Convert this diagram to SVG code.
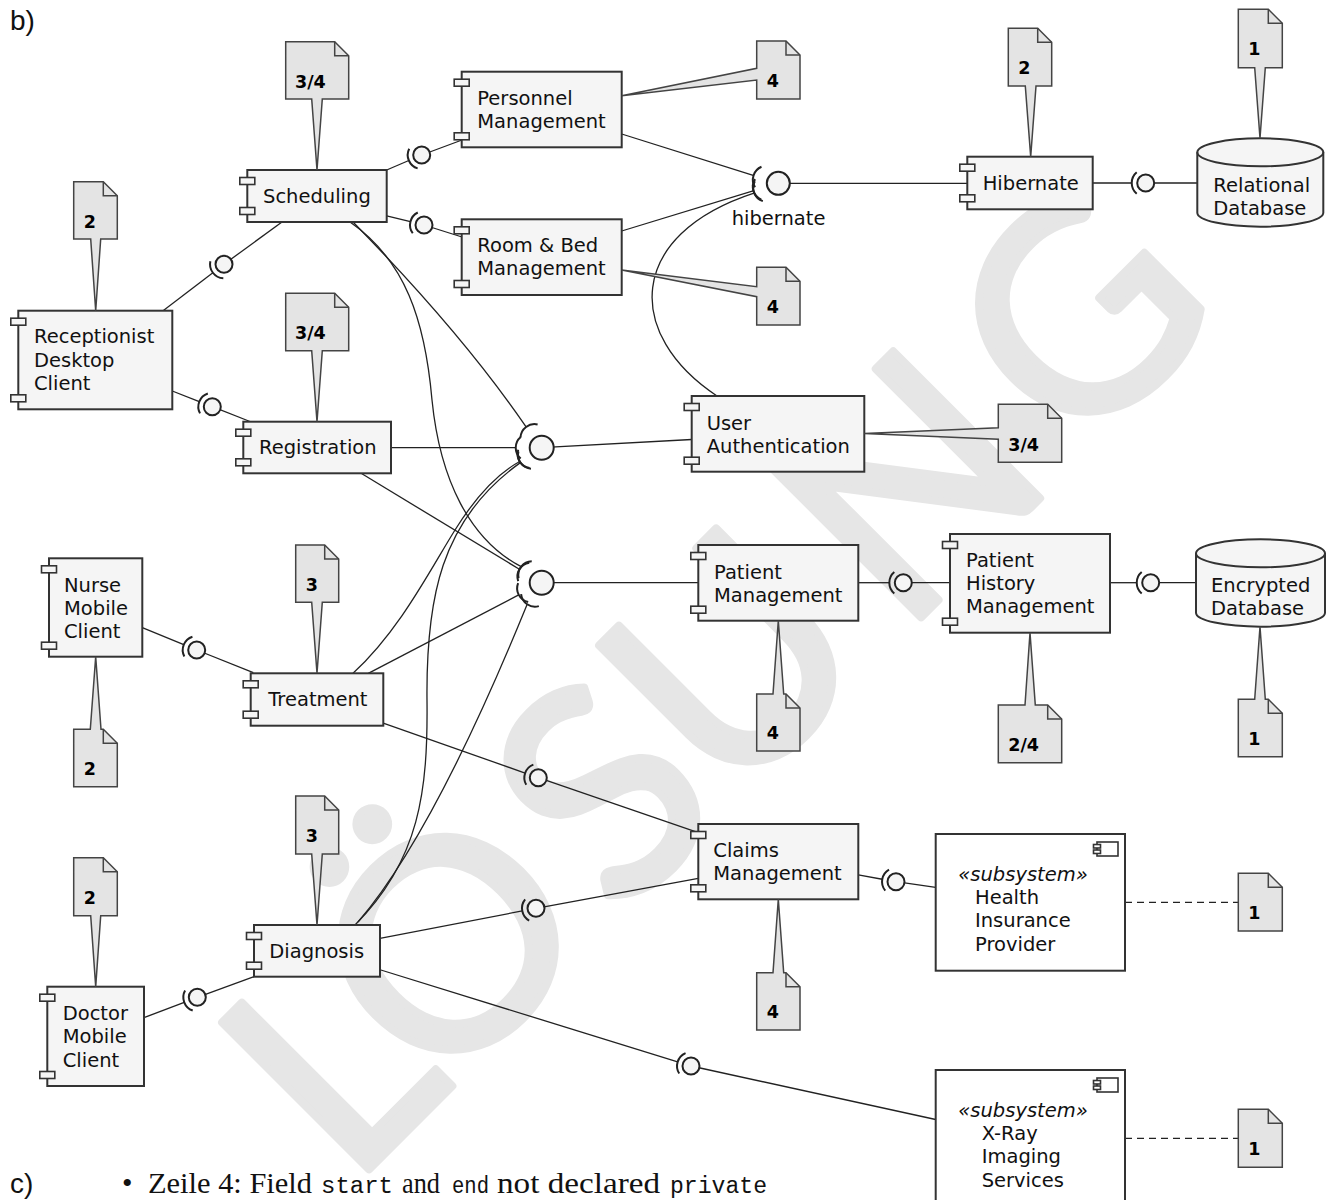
<svg xmlns="http://www.w3.org/2000/svg" width="1330" height="1200" viewBox="0 0 1330 1200">
<defs>
<style>
.wm{font-family:"Lato","Noto Sans",sans-serif;font-size:290px;fill:#e6e6e6;stroke:#e6e6e6;stroke-width:8;stroke-linejoin:round}
.box{fill:#f5f5f5;stroke:#333;stroke-width:2}
.tab{fill:#f5f5f5;stroke:#333;stroke-width:1.6}
.sub{fill:#fff;stroke:#333;stroke-width:2}
.t{font-family:"DejaVu Sans",sans-serif;font-size:19.5px;fill:#111}
.it{font-style:italic}
.note{fill:#e4e4e4;stroke:#444;stroke-width:1.5}
.fold{fill:none;stroke:#444;stroke-width:1.5}
.nt{font-family:"DejaVu Sans",sans-serif;font-size:17.5px;font-weight:bold;fill:#000}
.w{fill:none;stroke:#222;stroke-width:1.3}
.dash{fill:none;stroke:#222;stroke-width:1.3;stroke-dasharray:7 5}
.ball{fill:#f5f5f5;stroke:#222;stroke-width:2}
.sock{fill:none;stroke:#222;stroke-width:2}
.head{font-family:"Liberation Sans",Arial,sans-serif;font-size:28px;fill:#111}
.body{font-family:"Liberation Serif","Times New Roman",serif;font-size:30px;fill:#111}
.mono{font-family:"Liberation Mono","DejaVu Sans Mono",monospace;font-size:23px}
</style>
<!-- socket arc of a small ball-and-socket, facing +x -->
<path id="sk" class="sock" d="M9,-10.7 A14,14 0 0 1 9,10.7"/>
<!-- socket arc on a shared interface ball, facing +x -->
<path id="skb" class="sock" d="M21,-10.7 A14,14 0 0 1 21,10.7"/>
</defs>

<!-- watermark, letters placed one by one along a 45 degree baseline -->
<text class="wm" transform="translate(451,946) rotate(-45)" y="100" text-anchor="middle"><tspan x="-168">L</tspan><tspan x="0">Ö</tspan><tspan x="216">S</tspan><tspan x="400">U</tspan><tspan x="649">N</tspan><tspan x="891">G</tspan></text>

<text class="head" x="10" y="30">b)</text>

<!-- connectors -->
<g id="connectors">
  <!-- ball-and-socket links -->
  <path class="w" d="M224,264.3 L282,222"/>
  <g transform="translate(224,264.3) rotate(142.7)"><path class="w" d="M14,0 H76.6"/><use href="#sk"/></g>
  <path class="w" d="M212.3,406.7 L250,421.5"/>
  <g transform="translate(212.3,406.7) rotate(201.4)"><path class="w" d="M14,0 H43"/><use href="#sk"/></g>
  <path class="w" d="M421.7,155 L462,140"/>
  <g transform="translate(421.7,155) rotate(156.8)"><path class="w" d="M14,0 H38.1"/><use href="#sk"/></g>
  <path class="w" d="M424,225 L462,237"/>
  <g transform="translate(424,225) rotate(193.6)"><path class="w" d="M14,0 H38.4"/><use href="#sk"/></g>
  <path class="w" d="M1145.7,183 L1197.3,183"/>
  <g transform="translate(1145.7,183) rotate(180)"><path class="w" d="M14,0 H53"/><use href="#sk"/></g>
  <path class="w" d="M903.3,582.7 L950,582.7"/>
  <g transform="translate(903.3,582.7) rotate(180)"><path class="w" d="M14,0 H45"/><use href="#sk"/></g>
  <path class="w" d="M1150.7,582.7 L1196,582.7"/>
  <g transform="translate(1150.7,582.7) rotate(180)"><path class="w" d="M14,0 H40.7"/><use href="#sk"/></g>
  <path class="w" d="M196.7,650 L253.3,672.7"/>
  <g transform="translate(196.7,650) rotate(202.3)"><path class="w" d="M14,0 H58.8"/><use href="#sk"/></g>
  <path class="w" d="M197.3,997.3 L254,976.7"/>
  <g transform="translate(197.3,997.3) rotate(159.1)"><path class="w" d="M14,0 H57.1"/><use href="#sk"/></g>
  <path class="w" d="M538.3,777.7 L698.3,832.7"/>
  <g transform="translate(538.3,777.7) rotate(199.4)"><path class="w" d="M14,0 H164.4"/><use href="#sk"/></g>
  <path class="w" d="M536,908.3 L698.3,878.3"/>
  <g transform="translate(536,908.3) rotate(169.1)"><path class="w" d="M14,0 H158.9"/><use href="#sk"/></g>
  <path class="w" d="M896,881.7 L935.7,887.3"/>
  <g transform="translate(896,881.7) rotate(190.1)"><path class="w" d="M14,0 H38.3"/><use href="#sk"/></g>
  <path class="w" d="M691,1066 L935.7,1119.5"/>
  <g transform="translate(691,1066) rotate(197.2)"><path class="w" d="M14,0 H325.5"/><use href="#sk"/></g>

  <!-- hibernate interface -->
  <path class="w" d="M778.3,183.3 L967.3,183.3"/>
  <path class="w" d="M621.7,134 L754,175.6"/>
  <path class="w" d="M621.7,231 L753.9,190.7"/>
  <path class="w" d="M717,396 C625,335 625,235 754.7,192.9"/>
  <g transform="translate(778.3,183.3)">
    <use href="#skb" transform="rotate(197.5)"/>
    <use href="#skb" transform="rotate(163.1)"/>
    <use href="#skb" transform="rotate(158)"/>
  </g>

  <!-- authentication interface -->
  <path class="w" d="M541.7,447.7 L691.7,439.5"/>
  <path class="w" d="M353,222 C400,270 470,345 526.1,426.9"/>
  <path class="w" d="M391,447.7 L515.7,447.7"/>
  <path class="w" d="M353,673.3 C400,630 430,570 455,530 C475,498 495,475 519.7,461.5"/>
  <path class="w" d="M355,925 C420,860 428,790 427,700 C426,600 440,520 520.4,462.6"/>
  <g transform="translate(541.7,447.7)">
    <use href="#skb" transform="rotate(233)"/>
    <use href="#skb" transform="rotate(180)"/>
    <use href="#skb" transform="rotate(148)"/>
    <use href="#skb" transform="rotate(144)"/>
  </g>

  <!-- patient interface -->
  <path class="w" d="M541.7,582.7 L698.3,582.7"/>
  <path class="w" d="M350,222 C405,260 425,320 432,400 C440,480 470,540 521.2,566.7"/>
  <path class="w" d="M361.5,473.5 L519.4,569.3"/>
  <path class="w" d="M368.3,673.3 L518.7,594.9"/>
  <path class="w" d="M358,922 C420,850 480,720 527.2,604.3"/>
  <g transform="translate(541.7,582.7)">
    <use href="#skb" transform="rotate(218)"/>
    <use href="#skb" transform="rotate(211)"/>
    <use href="#skb" transform="rotate(152)"/>
    <use href="#skb" transform="rotate(124)"/>
  </g>

  <!-- balls -->
  <circle class="ball" cx="224" cy="264.3" r="8.5"/>
  <circle class="ball" cx="212.3" cy="406.7" r="8.5"/>
  <circle class="ball" cx="421.7" cy="155" r="8.5"/>
  <circle class="ball" cx="424" cy="225" r="8.5"/>
  <circle class="ball" cx="1145.7" cy="183" r="8.5"/>
  <circle class="ball" cx="903.3" cy="582.7" r="8.5"/>
  <circle class="ball" cx="1150.7" cy="582.7" r="8.5"/>
  <circle class="ball" cx="196.7" cy="650" r="8.5"/>
  <circle class="ball" cx="197.3" cy="997.3" r="8.5"/>
  <circle class="ball" cx="538.3" cy="777.7" r="8.5"/>
  <circle class="ball" cx="536" cy="908.3" r="8.5"/>
  <circle class="ball" cx="896" cy="881.7" r="8.5"/>
  <circle class="ball" cx="691" cy="1066" r="8.5"/>
  <circle class="ball" cx="778.3" cy="183.3" r="11.5"/>
  <circle class="ball" cx="541.7" cy="447.7" r="12"/>
  <circle class="ball" cx="541.7" cy="582.7" r="12"/>
  <text class="t" x="731.7" y="225">hibernate</text>

  <!-- note links to subsystems -->
  <path class="dash" d="M1125,902.3 H1238.3"/>
  <path class="dash" d="M1125,1138.3 H1238.3"/>
</g>

<!-- components -->
<g id="scheduling"><rect class="box" x="247.3" y="170" width="139.4" height="52"/><rect class="tab" x="239.8" y="177.5" width="15" height="7"/><rect class="tab" x="239.8" y="207.5" width="15" height="7"/><text class="t" x="263" y="203">Scheduling</text></g>
<g id="personnel"><rect class="box" x="461.7" y="71.7" width="160" height="75.6"/><rect class="tab" x="454.2" y="79.2" width="15" height="7"/><rect class="tab" x="454.2" y="132.8" width="15" height="7"/><text class="t" x="477.3" y="105">Personnel</text><text class="t" x="477.3" y="128.3">Management</text></g>
<g id="roombed"><rect class="box" x="461.7" y="219.3" width="160" height="75.7"/><rect class="tab" x="454.2" y="226.8" width="15" height="7"/><rect class="tab" x="454.2" y="280.5" width="15" height="7"/><text class="t" x="477.3" y="251.7">Room &amp; Bed</text><text class="t" x="477.3" y="275">Management</text></g>
<g id="receptionist"><rect class="box" x="18.3" y="310.7" width="154" height="98.6"/><rect class="tab" x="10.8" y="318.2" width="15" height="7"/><rect class="tab" x="10.8" y="394.8" width="15" height="7"/><text class="t" x="34" y="343.3">Receptionist</text><text class="t" x="34" y="366.7">Desktop</text><text class="t" x="34" y="390">Client</text></g>
<g id="registration"><rect class="box" x="243.3" y="421.7" width="147.7" height="51.6"/><rect class="tab" x="235.8" y="429.2" width="15" height="7"/><rect class="tab" x="235.8" y="458.8" width="15" height="7"/><text class="t" x="259" y="454.3">Registration</text></g>
<g id="userauth"><rect class="box" x="691.7" y="396" width="172.6" height="75.7"/><rect class="tab" x="684.2" y="403.5" width="15" height="7"/><rect class="tab" x="684.2" y="457.2" width="15" height="7"/><text class="t" x="706.7" y="430">User</text><text class="t" x="706.7" y="452.7">Authentication</text></g>
<g id="hibernate"><rect class="box" x="967.3" y="156.7" width="125.4" height="52.6"/><rect class="tab" x="959.8" y="164.2" width="15" height="7"/><rect class="tab" x="959.8" y="194.8" width="15" height="7"/><text class="t" x="982.7" y="190">Hibernate</text></g>
<g id="patientmgmt"><rect class="box" x="698.3" y="545" width="160" height="75.7"/><rect class="tab" x="690.8" y="552.5" width="15" height="7"/><rect class="tab" x="690.8" y="606.2" width="15" height="7"/><text class="t" x="714" y="579">Patient</text><text class="t" x="714" y="601.7">Management</text></g>
<g id="patienthistory"><rect class="box" x="950" y="534" width="160" height="98.7"/><rect class="tab" x="942.5" y="541.5" width="15" height="7"/><rect class="tab" x="942.5" y="618.2" width="15" height="7"/><text class="t" x="966" y="566.7">Patient</text><text class="t" x="966" y="590">History</text><text class="t" x="966" y="612.7">Management</text></g>
<g id="nurse"><rect class="box" x="49" y="558.3" width="93.3" height="98.4"/><rect class="tab" x="41.5" y="565.8" width="15" height="7"/><rect class="tab" x="41.5" y="642.2" width="15" height="7"/><text class="t" x="64" y="591.7">Nurse</text><text class="t" x="64" y="615">Mobile</text><text class="t" x="64" y="638.3">Client</text></g>
<g id="treatment"><rect class="box" x="250.7" y="673.3" width="132.6" height="52.4"/><rect class="tab" x="243.2" y="680.8" width="15" height="7"/><rect class="tab" x="243.2" y="711.2" width="15" height="7"/><text class="t" x="268.3" y="706">Treatment</text></g>
<g id="claims"><rect class="box" x="698.3" y="824" width="160" height="75.3"/><rect class="tab" x="690.8" y="831.5" width="15" height="7"/><rect class="tab" x="690.8" y="884.8" width="15" height="7"/><text class="t" x="713.3" y="856.7">Claims</text><text class="t" x="713.3" y="880">Management</text></g>
<g id="diagnosis"><rect class="box" x="254" y="925" width="126" height="51.7"/><rect class="tab" x="246.5" y="932.5" width="15" height="7"/><rect class="tab" x="246.5" y="962.2" width="15" height="7"/><text class="t" x="269.3" y="957.7">Diagnosis</text></g>
<g id="doctor"><rect class="box" x="47.3" y="986.7" width="96.7" height="99.3"/><rect class="tab" x="39.8" y="994.2" width="15" height="7"/><rect class="tab" x="39.8" y="1071.5" width="15" height="7"/><text class="t" x="62.7" y="1020">Doctor</text><text class="t" x="62.7" y="1043.3">Mobile</text><text class="t" x="62.7" y="1066.7">Client</text></g>

<!-- databases -->
<g id="relationaldb"><path class="box" d="M1197.3,152.3 A63,14 0 0 1 1323.3,152.3 V212.7 A63,14 0 0 1 1197.3,212.7 Z"/><path class="fold" style="stroke:#333;stroke-width:2" d="M1197.3,152.3 A63,14 0 0 0 1323.3,152.3"/><text class="t" x="1213.3" y="191.7">Relational</text><text class="t" x="1213.3" y="215">Database</text></g>
<g id="encrypteddb"><path class="box" d="M1196,553.3 A64.5,14 0 0 1 1325,553.3 V612.7 A64.5,14 0 0 1 1196,612.7 Z"/><path class="fold" style="stroke:#333;stroke-width:2" d="M1196,553.3 A64.5,14 0 0 0 1325,553.3"/><text class="t" x="1211" y="591.7">Encrypted</text><text class="t" x="1211" y="615">Database</text></g>

<!-- subsystems -->
<g id="healthinsurance"><rect class="sub" x="935.7" y="834" width="189.3" height="136.7"/><rect class="tab" style="fill:#fff" x="1097" y="842" width="21" height="14"/><rect class="tab" style="fill:#fff" x="1093.5" y="844.5" width="7" height="3.5"/><rect class="tab" style="fill:#fff" x="1093.5" y="850" width="7" height="3.5"/><text class="t it" x="958.3" y="880.7">«subsystem»</text><text class="t" x="975" y="904">Health</text><text class="t" x="975" y="927.3">Insurance</text><text class="t" x="975" y="950.7">Provider</text></g>
<g id="xray"><rect class="sub" x="935.7" y="1070" width="189.3" height="136.7"/><rect class="tab" style="fill:#fff" x="1097" y="1078" width="21" height="14"/><rect class="tab" style="fill:#fff" x="1093.5" y="1080.5" width="7" height="3.5"/><rect class="tab" style="fill:#fff" x="1093.5" y="1086" width="7" height="3.5"/><text class="t it" x="958.3" y="1116.7">«subsystem»</text><text class="t" x="981.7" y="1140">X-Ray</text><text class="t" x="981.7" y="1163.3">Imaging</text><text class="t" x="981.7" y="1186.7">Services</text></g>

<!-- notes -->
<g id="note-scheduling"><path class="note" d="M285.7,41.7 H334.7 L348.7,55.7 V99 H322.3 L317,170 L311.7,99 H285.7 Z"/><path class="fold" d="M334.7,41.7 V55.7 H348.7"/><text class="nt" x="295" y="87.7">3/4</text></g>
<g id="note-receptionist"><path class="note" d="M73.7,181.7 H103.3 L117.3,195.7 V239 H100.7 L95.7,310.7 L90.7,239 H73.7 Z"/><path class="fold" d="M103.3,181.7 V195.7 H117.3"/><text class="nt" x="83.7" y="227.7">2</text></g>
<g id="note-personnel"><path class="note" d="M756.7,41 H786 L800,55 V99 H756.7 V80 L621.7,95.7 L756.7,68.3 Z"/><path class="fold" d="M786,41 V55 H800"/><text class="nt" x="766.7" y="87">4</text></g>
<g id="note-roombed"><path class="note" d="M756.7,267.3 H786 L800,281.3 V325 H756.7 V296.7 L621.7,270 L756.7,286.7 Z"/><path class="fold" d="M786,267.3 V281.3 H800"/><text class="nt" x="766.7" y="313.3">4</text></g>
<g id="note-hibernate"><path class="note" d="M1008.3,28.3 H1037.7 L1051.7,42.3 V86 H1036 L1030.7,156.7 L1025.3,86 H1008.3 Z"/><path class="fold" d="M1037.7,28.3 V42.3 H1051.7"/><text class="nt" x="1018.3" y="74.3">2</text></g>
<g id="note-relationaldb"><path class="note" d="M1238.3,9.3 H1268.3 L1282.3,23.3 V67.7 H1265.3 L1260,138.3 L1254.7,67.7 H1238.3 Z"/><path class="fold" d="M1268.3,9.3 V23.3 H1282.3"/><text class="nt" x="1248.3" y="55.3">1</text></g>
<g id="note-registration"><path class="note" d="M285.7,293.3 H334.7 L348.7,307.3 V350.7 H322.3 L317,421.7 L311.7,350.7 H285.7 Z"/><path class="fold" d="M334.7,293.3 V307.3 H348.7"/><text class="nt" x="295" y="339.3">3/4</text></g>
<g id="note-userauth"><path class="note" d="M998.3,404.3 H1047.7 L1061.7,418.3 V462.3 H998.3 V439.3 L864.3,433.5 L998.3,427.7 Z"/><path class="fold" d="M1047.7,404.3 V418.3 H1061.7"/><text class="nt" x="1008.3" y="450.7">3/4</text></g>
<g id="note-treatment"><path class="note" d="M295.7,545 H324.7 L338.7,559 V602.3 H322.3 L317,673.3 L311.7,602.3 H295.7 Z"/><path class="fold" d="M324.7,545 V559 H338.7"/><text class="nt" x="305.7" y="591">3</text></g>
<g id="note-nurse"><path class="note" d="M73.7,729.3 H90.3 L95.7,656.7 L101,729.3 H103.3 L117.3,743.3 V786.7 H73.7 Z"/><path class="fold" d="M103.3,729.3 V743.3 H117.3"/><text class="nt" x="83.7" y="775">2</text></g>
<g id="note-patientmgmt"><path class="note" d="M756.7,694 H773 L778.3,620.7 L783.7,694 H786 L800,708 V751 H756.7 Z"/><path class="fold" d="M786,694 V708 H800"/><text class="nt" x="766.7" y="739.3">4</text></g>
<g id="note-patienthistory"><path class="note" d="M998.3,705 H1025 L1030,632.7 L1035.3,705 H1047.7 L1061.7,719 V762.7 H998.3 Z"/><path class="fold" d="M1047.7,705 V719 H1061.7"/><text class="nt" x="1008.3" y="750.7">2/4</text></g>
<g id="note-encrypteddb"><path class="note" d="M1238.3,699.3 H1254.7 L1260,626.7 L1265.3,699.3 H1268.3 L1282.3,713.3 V756.7 H1238.3 Z"/><path class="fold" d="M1268.3,699.3 V713.3 H1282.3"/><text class="nt" x="1248.3" y="745">1</text></g>
<g id="note-diagnosis"><path class="note" d="M295.7,796 H324.7 L338.7,810 V854 H322.3 L317,925 L311.7,854 H295.7 Z"/><path class="fold" d="M324.7,796 V810 H338.7"/><text class="nt" x="305.7" y="842">3</text></g>
<g id="note-doctor"><path class="note" d="M73.7,857.7 H103.3 L117.3,871.7 V915.7 H100.7 L95.7,986.7 L90.7,915.7 H73.7 Z"/><path class="fold" d="M103.3,857.7 V871.7 H117.3"/><text class="nt" x="83.7" y="904">2</text></g>
<g id="note-claims"><path class="note" d="M756.7,972.7 H773 L778.3,899.3 L783.7,972.7 H786 L800,986.7 V1030 H756.7 Z"/><path class="fold" d="M786,972.7 V986.7 H800"/><text class="nt" x="766.7" y="1018.3">4</text></g>
<g id="note-healthinsurance"><path class="note" d="M1238.3,873.3 H1268.3 L1282.3,887.3 V931 H1238.3 Z"/><path class="fold" d="M1268.3,873.3 V887.3 H1282.3"/><text class="nt" x="1248.3" y="919">1</text></g>
<g id="note-xray"><path class="note" d="M1238.3,1109.3 H1268.3 L1282.3,1123.3 V1167.3 H1238.3 Z"/><path class="fold" d="M1268.3,1109.3 V1123.3 H1282.3"/><text class="nt" x="1248.3" y="1155">1</text></g>

<!-- part c -->
<text class="head" x="10" y="1193">c)</text>
<text class="body" y="1193"><tspan x="122">•</tspan><tspan x="148" textLength="164" lengthAdjust="spacingAndGlyphs">Zeile 4: Field</tspan><tspan class="mono" x="321" textLength="72" lengthAdjust="spacingAndGlyphs">start</tspan><tspan x="402" textLength="38" lengthAdjust="spacingAndGlyphs">and</tspan><tspan class="mono" x="452" textLength="37" lengthAdjust="spacingAndGlyphs">end</tspan><tspan x="497" textLength="163" lengthAdjust="spacingAndGlyphs">not declared</tspan><tspan class="mono" x="670" textLength="97" lengthAdjust="spacingAndGlyphs">private</tspan></text>
</svg>
